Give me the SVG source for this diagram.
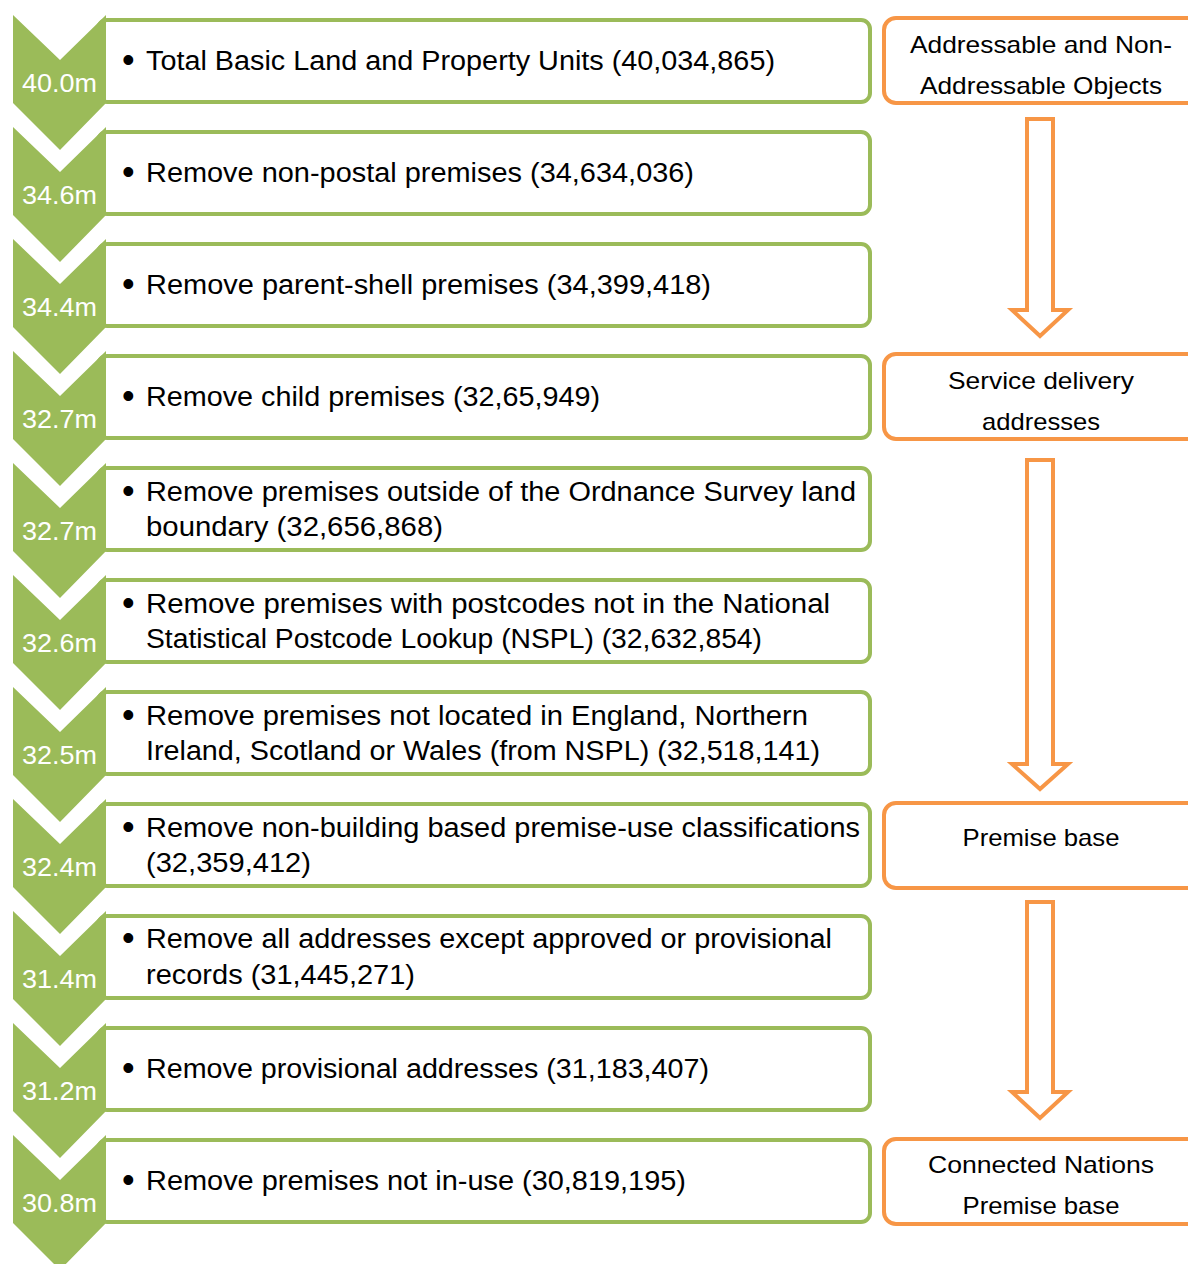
<svg xmlns="http://www.w3.org/2000/svg" width="1188" height="1264" viewBox="0 0 1188 1264">
<style>
.box{fill:#fff;stroke:#9BBB59;stroke-width:4}
.chev{fill:#9BBB59}
.clab{font-family:"Liberation Sans",Arial,sans-serif;font-size:25px;fill:#fff}
.t{font-family:"Liberation Sans",Arial,sans-serif;font-size:27px;fill:#000}
.b{font-family:"Liberation Sans",Arial,sans-serif;font-size:36px;fill:#000}
.ob{fill:#fff;stroke:#F79646;stroke-width:4}
.ot{font-family:"Liberation Sans",Arial,sans-serif;font-size:24px;fill:#000;text-anchor:middle}
.arr{fill:#fff;stroke:#F79646;stroke-width:4;stroke-linejoin:miter}
</style>
<rect width="1188" height="1264" fill="#fff"/>
<defs>
<path id="chev" d="M13,0 L60,45 L106,0 L106,88 L60,135 L13,88 Z"/>
</defs>
<g id="step1"><rect class="box" x="98" y="20" width="772" height="82" rx="9"/><use href="#chev" class="chev" y="15"/><text class="clab" x="22" y="92" textLength="75" lengthAdjust="spacingAndGlyphs">40.0m</text><text class="b" x="122" y="72">•</text><text class="t" x="146" y="70" textLength="629" lengthAdjust="spacingAndGlyphs">Total Basic Land and Property Units (40,034,865)</text></g>
<g id="step2"><rect class="box" x="98" y="132" width="772" height="82" rx="9"/><use href="#chev" class="chev" y="127"/><text class="clab" x="22" y="204" textLength="75" lengthAdjust="spacingAndGlyphs">34.6m</text><text class="b" x="122" y="184">•</text><text class="t" x="146" y="182" textLength="548" lengthAdjust="spacingAndGlyphs">Remove non-postal premises (34,634,036)</text></g>
<g id="step3"><rect class="box" x="98" y="244" width="772" height="82" rx="9"/><use href="#chev" class="chev" y="239"/><text class="clab" x="22" y="316" textLength="75" lengthAdjust="spacingAndGlyphs">34.4m</text><text class="b" x="122" y="296">•</text><text class="t" x="146" y="294" textLength="565" lengthAdjust="spacingAndGlyphs">Remove parent-shell premises (34,399,418)</text></g>
<g id="step4"><rect class="box" x="98" y="356" width="772" height="82" rx="9"/><use href="#chev" class="chev" y="351"/><text class="clab" x="22" y="428" textLength="75" lengthAdjust="spacingAndGlyphs">32.7m</text><text class="b" x="122" y="408">•</text><text class="t" x="146" y="406" textLength="454" lengthAdjust="spacingAndGlyphs">Remove child premises (32,65,949)</text></g>
<g id="step5"><rect class="box" x="98" y="468" width="772" height="82" rx="9"/><use href="#chev" class="chev" y="463"/><text class="clab" x="22" y="540" textLength="75" lengthAdjust="spacingAndGlyphs">32.7m</text><text class="b" x="122" y="503">•</text><text class="t" x="146" y="501" textLength="710" lengthAdjust="spacingAndGlyphs">Remove premises outside of the Ordnance Survey land</text><text class="t" x="146" y="536" textLength="297" lengthAdjust="spacingAndGlyphs">boundary (32,656,868)</text></g>
<g id="step6"><rect class="box" x="98" y="580" width="772" height="82" rx="9"/><use href="#chev" class="chev" y="575"/><text class="clab" x="22" y="652" textLength="75" lengthAdjust="spacingAndGlyphs">32.6m</text><text class="b" x="122" y="615">•</text><text class="t" x="146" y="613" textLength="684" lengthAdjust="spacingAndGlyphs">Remove premises with postcodes not in the National</text><text class="t" x="146" y="648" textLength="616" lengthAdjust="spacingAndGlyphs">Statistical Postcode Lookup (NSPL) (32,632,854)</text></g>
<g id="step7"><rect class="box" x="98" y="692" width="772" height="82" rx="9"/><use href="#chev" class="chev" y="687"/><text class="clab" x="22" y="764" textLength="75" lengthAdjust="spacingAndGlyphs">32.5m</text><text class="b" x="122" y="727">•</text><text class="t" x="146" y="725" textLength="662" lengthAdjust="spacingAndGlyphs">Remove premises not located in England, Northern</text><text class="t" x="146" y="760" textLength="674" lengthAdjust="spacingAndGlyphs">Ireland, Scotland or Wales (from NSPL) (32,518,141)</text></g>
<g id="step8"><rect class="box" x="98" y="804" width="772" height="82" rx="9"/><use href="#chev" class="chev" y="799"/><text class="clab" x="22" y="876" textLength="75" lengthAdjust="spacingAndGlyphs">32.4m</text><text class="b" x="122" y="839">•</text><text class="t" x="146" y="837" textLength="714" lengthAdjust="spacingAndGlyphs">Remove non-building based premise-use classifications</text><text class="t" x="146" y="872" textLength="165" lengthAdjust="spacingAndGlyphs">(32,359,412)</text></g>
<g id="step9"><rect class="box" x="98" y="916" width="772" height="82" rx="9"/><use href="#chev" class="chev" y="911"/><text class="clab" x="22" y="988" textLength="75" lengthAdjust="spacingAndGlyphs">31.4m</text><text class="b" x="122" y="950">•</text><text class="t" x="146" y="948" textLength="686" lengthAdjust="spacingAndGlyphs">Remove all addresses except approved or provisional</text><text class="t" x="146" y="984" textLength="269" lengthAdjust="spacingAndGlyphs">records (31,445,271)</text></g>
<g id="step10"><rect class="box" x="98" y="1028" width="772" height="82" rx="9"/><use href="#chev" class="chev" y="1023"/><text class="clab" x="22" y="1100" textLength="75" lengthAdjust="spacingAndGlyphs">31.2m</text><text class="b" x="122" y="1080">•</text><text class="t" x="146" y="1078" textLength="563" lengthAdjust="spacingAndGlyphs">Remove provisional addresses (31,183,407)</text></g>
<g id="step11"><rect class="box" x="98" y="1140" width="772" height="82" rx="9"/><use href="#chev" class="chev" y="1135"/><text class="clab" x="22" y="1212" textLength="75" lengthAdjust="spacingAndGlyphs">30.8m</text><text class="b" x="122" y="1192">•</text><text class="t" x="146" y="1190" textLength="540" lengthAdjust="spacingAndGlyphs">Remove premises not in-use (30,819,195)</text></g>
<g id="stage1"><rect class="ob" x="884" y="18" width="320" height="85" rx="12"/><text class="ot" x="1041" y="53" textLength="262" lengthAdjust="spacingAndGlyphs">Addressable and Non-</text><text class="ot" x="1041" y="94" textLength="242" lengthAdjust="spacingAndGlyphs">Addressable Objects</text></g>
<g id="stage2"><rect class="ob" x="884" y="354" width="320" height="85" rx="12"/><text class="ot" x="1041" y="389" textLength="186" lengthAdjust="spacingAndGlyphs">Service delivery</text><text class="ot" x="1041" y="430" textLength="118" lengthAdjust="spacingAndGlyphs">addresses</text></g>
<g id="stage3"><rect class="ob" x="884" y="803" width="320" height="85" rx="12"/><text class="ot" x="1041" y="846" textLength="157" lengthAdjust="spacingAndGlyphs">Premise base</text></g>
<g id="stage4"><rect class="ob" x="884" y="1139" width="320" height="85" rx="12"/><text class="ot" x="1041" y="1173" textLength="226" lengthAdjust="spacingAndGlyphs">Connected Nations</text><text class="ot" x="1041" y="1214" textLength="157" lengthAdjust="spacingAndGlyphs">Premise base</text></g>
<g id="connectors">
<path class="arr" d="M1027,119 L1053,119 L1053,310 L1068,310 L1040,336 L1012,310 L1027,310 Z"/>
<path class="arr" d="M1027,460 L1053,460 L1053,764 L1068,764 L1040,789 L1012,764 L1027,764 Z"/>
<path class="arr" d="M1027,902 L1053,902 L1053,1092 L1068,1092 L1040,1118 L1012,1092 L1027,1092 Z"/>
</g>
</svg>
